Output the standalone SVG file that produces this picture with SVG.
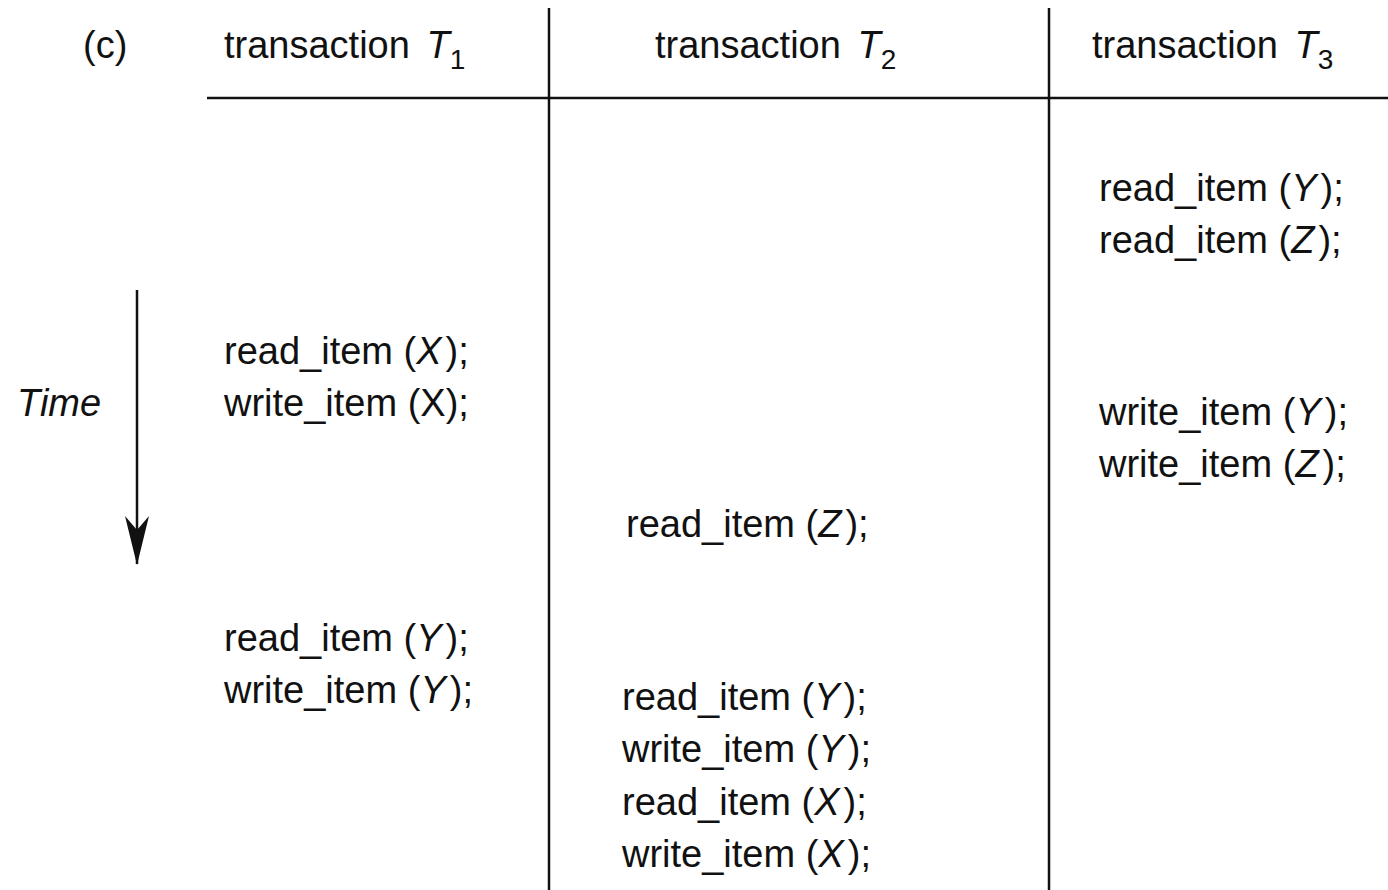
<svg xmlns="http://www.w3.org/2000/svg" width="1388" height="890" viewBox="0 0 1388 890">
<style>
text{font-family:"Liberation Sans",Arial,sans-serif;font-size:38px;fill:#111}
.i{font-style:italic}
.sub{font-size:28px;font-style:normal}
.rule{stroke:#111;stroke-width:2.5;fill:none}
</style>
<defs>
<marker id="ah" markerWidth="50" markerHeight="26" refX="48" refY="13" orient="auto" markerUnits="userSpaceOnUse" viewBox="0 0 50 26">
<path d="M0,1 L14,13 L0,25 L49,13 Z" fill="#111"/>
</marker>
</defs>
<rect width="1388" height="890" fill="#fff"/>
<g id="connectors">
<line class="rule" x1="207" y1="98" x2="1388" y2="98"/>
<line class="rule" x1="549" y1="8" x2="549" y2="890"/>
<line class="rule" x1="1049" y1="8" x2="1049" y2="890"/>
<line id="time-arrow" class="rule" x1="137" y1="290" x2="137" y2="564" marker-end="url(#ah)"/>
</g>
<g id="labels">
<text x="83" y="58">(c)</text>
<text x="17" y="416" class="i">Time</text>
</g>
<g id="header-T1"><text x="224" y="58">transaction <tspan class="i" dx="6">T</tspan><tspan class="sub" dy="11">1</tspan></text></g>
<g id="header-T2"><text x="655" y="58">transaction <tspan class="i" dx="6">T</tspan><tspan class="sub" dy="11">2</tspan></text></g>
<g id="header-T3"><text x="1092" y="58">transaction <tspan class="i" dx="6">T</tspan><tspan class="sub" dy="11">3</tspan></text></g>
<g id="T1-ops">
<text x="224" y="364">read_item (<tspan class="i">X</tspan><tspan dx="4">);</tspan></text>
<text x="224" y="416">write_item (X);</text>
<text x="224" y="651">read_item (<tspan class="i">Y</tspan><tspan dx="4">);</tspan></text>
<text x="224" y="703">write_item (<tspan class="i">Y</tspan><tspan dx="4">);</tspan></text>
</g>
<g id="T2-ops">
<text x="626" y="537">read_item (<tspan class="i">Z</tspan><tspan dx="4">);</tspan></text>
<text x="622" y="710">read_item (<tspan class="i">Y</tspan><tspan dx="4">);</tspan></text>
<text x="622" y="762">write_item (<tspan class="i">Y</tspan><tspan dx="4">);</tspan></text>
<text x="622" y="815">read_item (<tspan class="i">X</tspan><tspan dx="4">);</tspan></text>
<text x="622" y="867">write_item (<tspan class="i">X</tspan><tspan dx="4">);</tspan></text>
</g>
<g id="T3-ops">
<text x="1099" y="201">read_item (<tspan class="i">Y</tspan><tspan dx="4">);</tspan></text>
<text x="1099" y="253">read_item (<tspan class="i">Z</tspan><tspan dx="4">);</tspan></text>
<text x="1099" y="425">write_item (<tspan class="i">Y</tspan><tspan dx="4">);</tspan></text>
<text x="1099" y="477">write_item (<tspan class="i">Z</tspan><tspan dx="4">);</tspan></text>
</g>
</svg>
